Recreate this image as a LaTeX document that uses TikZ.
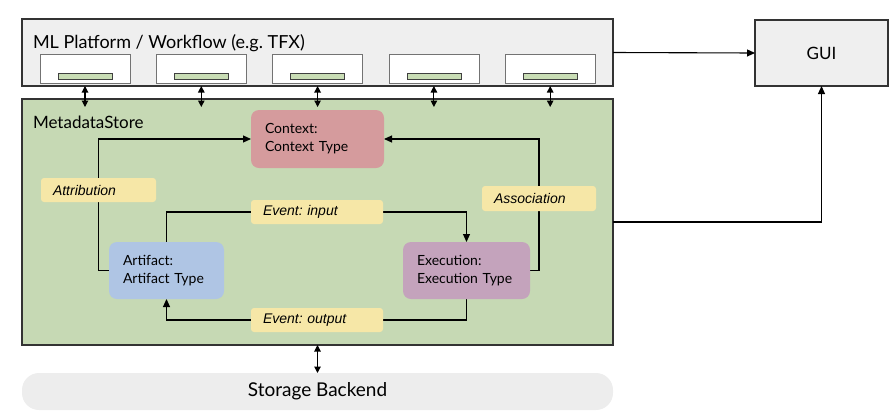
\documentclass[tikz,border=0pt]{standalone}
\usepackage{fontspec}
\setmainfont{Lato}
\newfontfamily\relfont{Liberation Sans}
\usepackage{tikz}
\usetikzlibrary{positioning,calc,arrows.meta,shapes.geometric}

\definecolor{storegreen}{HTML}{C6D9B4}
\definecolor{platformgray}{HTML}{EFEFEF}
\definecolor{contextred}{HTML}{D59B9D}
\definecolor{artifactblue}{HTML}{AFC5E4}
\definecolor{executionpurple}{HTML}{C4A3BC}
\definecolor{labelyellow}{HTML}{F6E7A7}
\definecolor{bargreen}{HTML}{C9DDB5}

\pgfdeclarelayer{back}
\pgfdeclarelayer{wires}
\pgfsetlayers{back,wires,main}

\frenchspacing

\begin{document}
\begin{tikzpicture}[x = 1pt, y = -1pt,
        every node/.style = {inner sep = 0pt, outer sep = 0pt},
        panel/.style = {draw = black!80, line width = 1.2pt, anchor = north west},
        entity/.style = {rounded corners = 8pt, anchor = north west, align = left, inner xsep = 14pt, font = \fontsize{14}{18}\selectfont},
        relation/.style = {fill = labelyellow, rounded corners = 3pt, anchor = north west, align = left, inner xsep = 12pt, minimum height = 24pt, font = \relfont\itshape\fontsize{14}{17}\selectfont},
        link/.style = {line width = 1.1pt, -{Triangle[length = 8pt, width = 7pt]}},
        dlink/.style = {line width = 1.1pt, {Triangle[length = 6.5pt, width = 6.5pt]}-{Triangle[length = 6.5pt, width = 6.5pt]}}
    ]

        \def\stepGap{116.3}

        \useasboundingbox (0, 0) rectangle (896, 413);

        \begin{pgfonlayer}{back}

            % draw platform, store, gui and backend panels
            \node[panel, fill = platformgray, minimum width = 591pt, minimum height = 67pt] (platform) at (22, 19) {};
            \node[panel, fill = storegreen, minimum width = 591pt, minimum height = 246pt] (store) at (22, 99) {};
            \node[panel, fill = platformgray, minimum width = 133pt, minimum height = 66pt, font = \fontsize{17}{20}\selectfont] (gui) at (755, 20) {GUI};
            \node[fill = black!7, rounded corners = 17pt, minimum width = 591pt, minimum height = 37pt, anchor = north west, font = \fontsize{19}{22}\selectfont] (storage) at (22, 373) {Storage Backend};

        \end{pgfonlayer}

        \node[anchor = base west, font = \fontsize{18}{22}\selectfont] (platformtitle) at (33, 48) {ML Platform / Workflow (e.g. TFX)};
        \node[anchor = base west, font = \fontsize{17}{20}\selectfont] (storetitle) at (33, 128) {MetadataStore};

        % draw workflow steps with their store links
        \foreach \i in {0, ..., 4} {

            \node[draw = black!55, line width = 0.8pt, fill = white, anchor = north west, minimum width = 90pt, minimum height = 29pt] (step\i) at ({40 + \i*\stepGap}, 54) {};
            \node[draw = black!75, line width = 0.8pt, fill = bargreen, minimum width = 54pt, minimum height = 6pt] (bar\i) at ({85 + \i*\stepGap}, 76) {};

            \draw[dlink] (step\i.south |- platform.south) to ($(step\i.south |- store.north) + (0, 8)$);

        }

        % draw entity types
        \node[entity, fill = contextred, text width = 105pt, minimum height = 58pt] (context) at (251, 110) {Context:\\Context Type};
        \node[entity, fill = artifactblue, text width = 87pt, minimum height = 57pt] (artifact) at (109, 242) {Artifact:\\Artifact Type};
        \node[entity, fill = executionpurple, text width = 99pt, minimum height = 57pt] (execution) at (403, 242) {Execution:\\Execution Type};

        % draw relation labels
        \node[relation, text width = 91pt] (attribution) at (41, 178) {Attribution};
        \node[relation, text width = 90pt, minimum height = 25pt] (association) at (482, 186) {Association};
        \node[relation, text width = 108pt] (evinput) at (251, 200) {Event: input};
        \node[relation, text width = 108pt] (evoutput) at (251, 308) {Event: output};

        \begin{pgfonlayer}{wires}

            % draw relations between entities
            \draw[link] (artifact.west) -| (attribution.center) |- (context.west);
            \draw[link] (execution.east) -| (association.center) |- (context.east);
            \draw[link] (artifact.north) |- (evinput.center) -| (execution.north);
            \draw[link] (execution.south) |- (evoutput.center) -| (artifact.south);

        \end{pgfonlayer}

        % draw links to gui and backend
        \draw[link] (platform.east) to (gui.west);
        \draw[link] (store.east) -| (gui.south);
        \draw[dlink] (store.south) to (storage.north);

    \end{tikzpicture}
\end{document}
